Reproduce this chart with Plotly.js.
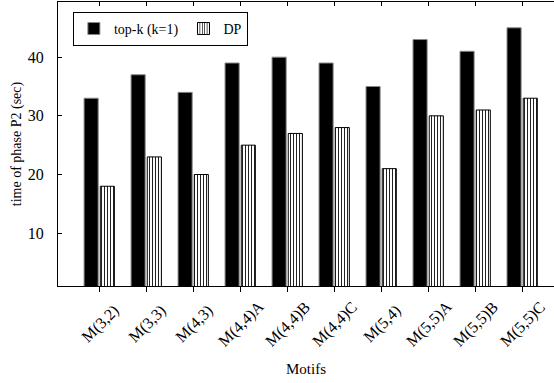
<!DOCTYPE html>
<html>
<head>
<meta charset="utf-8">
<script src="https://cdn.plot.ly/plotly-3.0.1.min.js"></script>
<style>html,body{margin:0;padding:0;background:#fff;}#chart{width:554px;height:383px;}</style>
</head>
<body>
<div id="chart"></div>
<script>
const categories = ["M(3,2)", "M(3,3)", "M(4,3)", "M(4,4)A", "M(4,4)B", "M(4,4)C", "M(5,4)", "M(5,5)A", "M(5,5)B", "M(5,5)C"];
const topk = [33, 37, 34, 39, 40, 39, 35, 43, 41, 45];
const dp = [18, 23, 20, 25, 27, 28, 21, 30, 31, 33];
const yTicks = [10, 20, 30, 40];

const FONT = "Liberation Serif, DejaVu Serif, serif";
const idx = categories.map((_, i) => i);

const traces = [
  {
    type: "bar", name: "top-k (k=1)", x: idx, y: topk,
    width: 0.3, offset: -0.325,
    marker: {color: "#000", line: {color: "#888", width: 1}}
  },
  {
    type: "bar", name: "DP", x: idx, y: dp,
    width: 0.3, offset: 0.02,
    marker: {color: "#fff", line: {color: "#000", width: 1},
      pattern: {shape: "|", size: 3, solidity: 0.35, fgcolor: "#222", bgcolor: "#fff"}}
  },
  {
    type: "scatter", mode: "none", x: idx, y: topk, xaxis: "x2", yaxis: "y",
    showlegend: false, hoverinfo: "skip"
  }
];

const annotations = categories.map((c, i) => ({
  text: c, x: i, xref: "x", y: -0.1338, yref: "paper",
  xanchor: "center", yanchor: "middle", textangle: -45,
  showarrow: false, xshift: 1,
  font: {family: FONT, size: 16, color: "#000"}
}));

const layout = {
  width: 554, height: 383,
  margin: {l: 58, r: 0, t: 2, b: 97},
  paper_bgcolor: "#fff", plot_bgcolor: "#fff",
  font: {family: FONT, color: "#000", size: 15},
  showlegend: true,
  legend: {
    orientation: "h", x: 0.03, y: 0.965, xanchor: "left", yanchor: "top",
    bordercolor: "#000", borderwidth: 1, bgcolor: "#fff",
    font: {family: FONT, size: 14}, traceorder: "normal",
    itemwidth: 30, tracegroupgap: 0
  },
  annotations: annotations,
  xaxis: {
    range: [-0.88, 9.675],
    tickmode: "array", tickvals: idx, showticklabels: false,
    ticks: "outside", ticklen: 5, tickcolor: "#000",
    showline: true, linecolor: "#000", linewidth: 1,
    showgrid: false, zeroline: false,
    title: {text: "Motifs", font: {family: FONT, size: 15}, standoff: 72}
  },
  xaxis2: {
    overlaying: "x", matches: "x", side: "top", anchor: "y",
    tickmode: "array", tickvals: idx, showticklabels: false,
    ticks: "inside", ticklen: 4, tickcolor: "#000",
    showline: true, linecolor: "#000", linewidth: 1,
    showgrid: false, zeroline: false
  },
  yaxis: {
    range: [1, 49.4],
    tickmode: "array", tickvals: yTicks,
    ticks: "inside", ticklen: 4, tickcolor: "#000",
    showline: true, linecolor: "#000", linewidth: 1,
    showgrid: false, zeroline: false,
    ticklabelstandoff: 10,
    title: {text: "time of phase P2 (sec)", font: {family: FONT, size: 14}, standoff: 2},
    tickfont: {family: FONT, size: 16}
  }
};

Plotly.newPlot("chart", traces, layout, {displayModeBar: false, staticPlot: true});
</script>
</body>
</html>
